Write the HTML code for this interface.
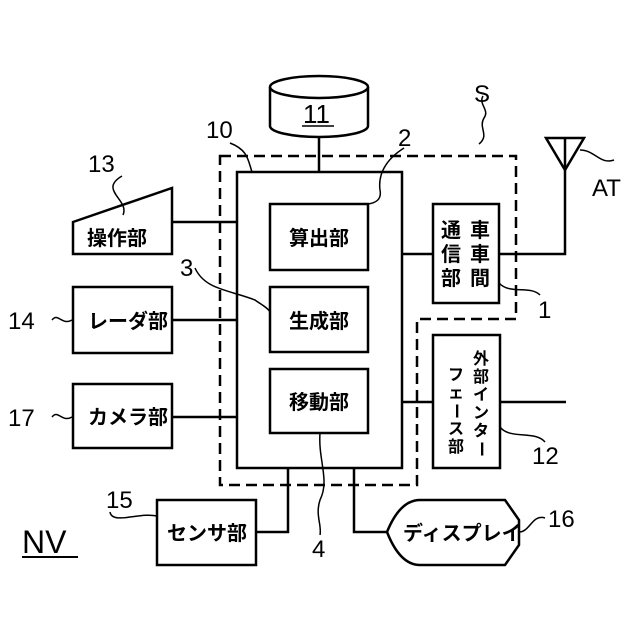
<!DOCTYPE html>
<html><head><meta charset="utf-8"><style>
body{margin:0;background:#fff}
svg{display:block}
text{font-family:"Liberation Sans","Noto Sans CJK JP",sans-serif;fill:#000}
.j{font-size:20px;font-weight:bold}
.v{font-size:16px;font-weight:bold}
.n{font-size:24px}
</style></head><body>
<svg width="640" height="640" viewBox="0 0 640 640" xmlns="http://www.w3.org/2000/svg">
<g fill="none" stroke="#000" stroke-width="2.5">
<path d="M220 156 H516 V319 H417 V485 H220 Z" stroke-dasharray="11 6"/>
<rect x="237" y="172" width="165" height="296"/>
<rect x="270" y="204" width="98" height="66"/>
<rect x="270" y="287" width="98" height="65"/>
<rect x="270" y="369" width="98" height="64"/>
<path d="M270 87 V126 A49 11 0 0 0 368 126 V87"/>
<ellipse cx="319" cy="87" rx="49" ry="11"/>
<line x1="319" y1="137" x2="319" y2="172"/>
<path d="M73 222 L172 188 V254 H73 Z"/>
<line x1="172" y1="222" x2="237" y2="222"/>
<rect x="73" y="287" width="99" height="66"/>
<line x1="172" y1="320" x2="237" y2="320"/>
<rect x="73" y="384" width="99" height="64"/>
<line x1="172" y1="417" x2="237" y2="417"/>
<rect x="433" y="204" width="66" height="99"/>
<line x1="402" y1="254" x2="433" y2="254"/>
<path d="M499 254 H565 V170"/>
<path d="M546 138 H584 L565 170 Z"/>
<line x1="565" y1="138" x2="565" y2="170"/>
<rect x="433" y="335" width="67" height="133"/>
<line x1="402" y1="402" x2="433" y2="402"/>
<line x1="500" y1="402" x2="566" y2="402"/>
<rect x="157" y="500" width="99" height="65"/>
<path d="M288 468 V532 H256"/>
<path d="M354 468 V532 H387"/>
<path d="M387 532 Q400 500 420 500 H505 L519 520 V545 L505 565 H420 Q400 565 387 532 Z"/>
</g>
<g fill="none" stroke="#000" stroke-width="1.5">
<path d="M122 176 C98 190 130 200 123 215"/>
<path d="M230 143 C248 150 248 160 252 172"/>
<path d="M404 148 C385 160 378 175 380 190 C382 200 375 203 368 204"/>
<path d="M195 268 C205 290 230 290 255 300 C262 305 268 308 270 312"/>
<path d="M479 144 C490 135 478 128 484 118 C490 110 478 104 483 96"/>
<path d="M580 150 C595 150 600 165 614 160"/>
<path d="M499 283 C510 295 530 285 540 295"/>
<path d="M500 427 C510 440 535 430 545 442"/>
<path d="M52 320 C58 312 62 326 72 320"/>
<path d="M52 417 C58 409 62 423 72 417"/>
<path d="M110 512 C112 525 140 512 157 516"/>
<path d="M519 532 C530 532 532 514 545 518"/>
<path d="M320 433 C318 460 330 480 320 500 C315 515 322 525 320 535"/>
</g>
<text x="303" y="123" style="font-size:26px">11</text>
<line x1="302" y1="126" x2="334" y2="126" stroke="#000" stroke-width="1.5"/>
<text class="n" x="206" y="138">10</text>
<text class="n" x="88" y="172">13</text>
<text class="n" x="398" y="146">2</text>
<text class="n" x="474" y="102">S</text>
<text class="n" x="592" y="196">AT</text>
<text class="n" x="180" y="276">3</text>
<text class="n" x="538" y="318">1</text>
<text class="n" x="532" y="464">12</text>
<text class="n" x="8" y="329">14</text>
<text class="n" x="8" y="426">17</text>
<text class="n" x="106" y="508">15</text>
<text class="n" x="548" y="527">16</text>
<text class="n" x="312" y="557">4</text>
<text x="22" y="553" style="font-size:32px">NV</text>
<line x1="22" y1="557" x2="78" y2="557" stroke="#000" stroke-width="2"/>
<text class="j" x="87" y="245">操作部</text>
<text class="j" x="88" y="328">レーダ部</text>
<text class="j" x="88" y="424">カメラ部</text>
<text class="j" x="167" y="540">センサ部</text>
<text class="j" x="403" y="540">ディスプレイ</text>
<text class="j" x="289" y="245">算出部</text>
<text class="j" x="289" y="328">生成部</text>
<text class="j" x="289" y="409">移動部</text>
<text class="j" x="470" y="237">車</text><text class="j" x="470" y="261">車</text><text class="j" x="470" y="285">間</text>
<text class="j" x="441" y="237">通</text><text class="j" x="441" y="261">信</text><text class="j" x="441" y="285">部</text>
<text class="v" x="473" y="364">外</text><text class="v" x="473" y="382">部</text><text class="v" x="473" y="400">イ</text><text class="v" x="473" y="418">ン</text><text class="v" x="473" y="436">タ</text><text class="v" x="473" y="454" transform="rotate(90 481 449)">ー</text>
<text class="v" x="448" y="380">フ</text><text class="v" x="448" y="398">ェ</text><text class="v" x="448" y="416" transform="rotate(90 456 411)">ー</text><text class="v" x="448" y="434">ス</text><text class="v" x="448" y="452">部</text>
</svg>
</body></html>
